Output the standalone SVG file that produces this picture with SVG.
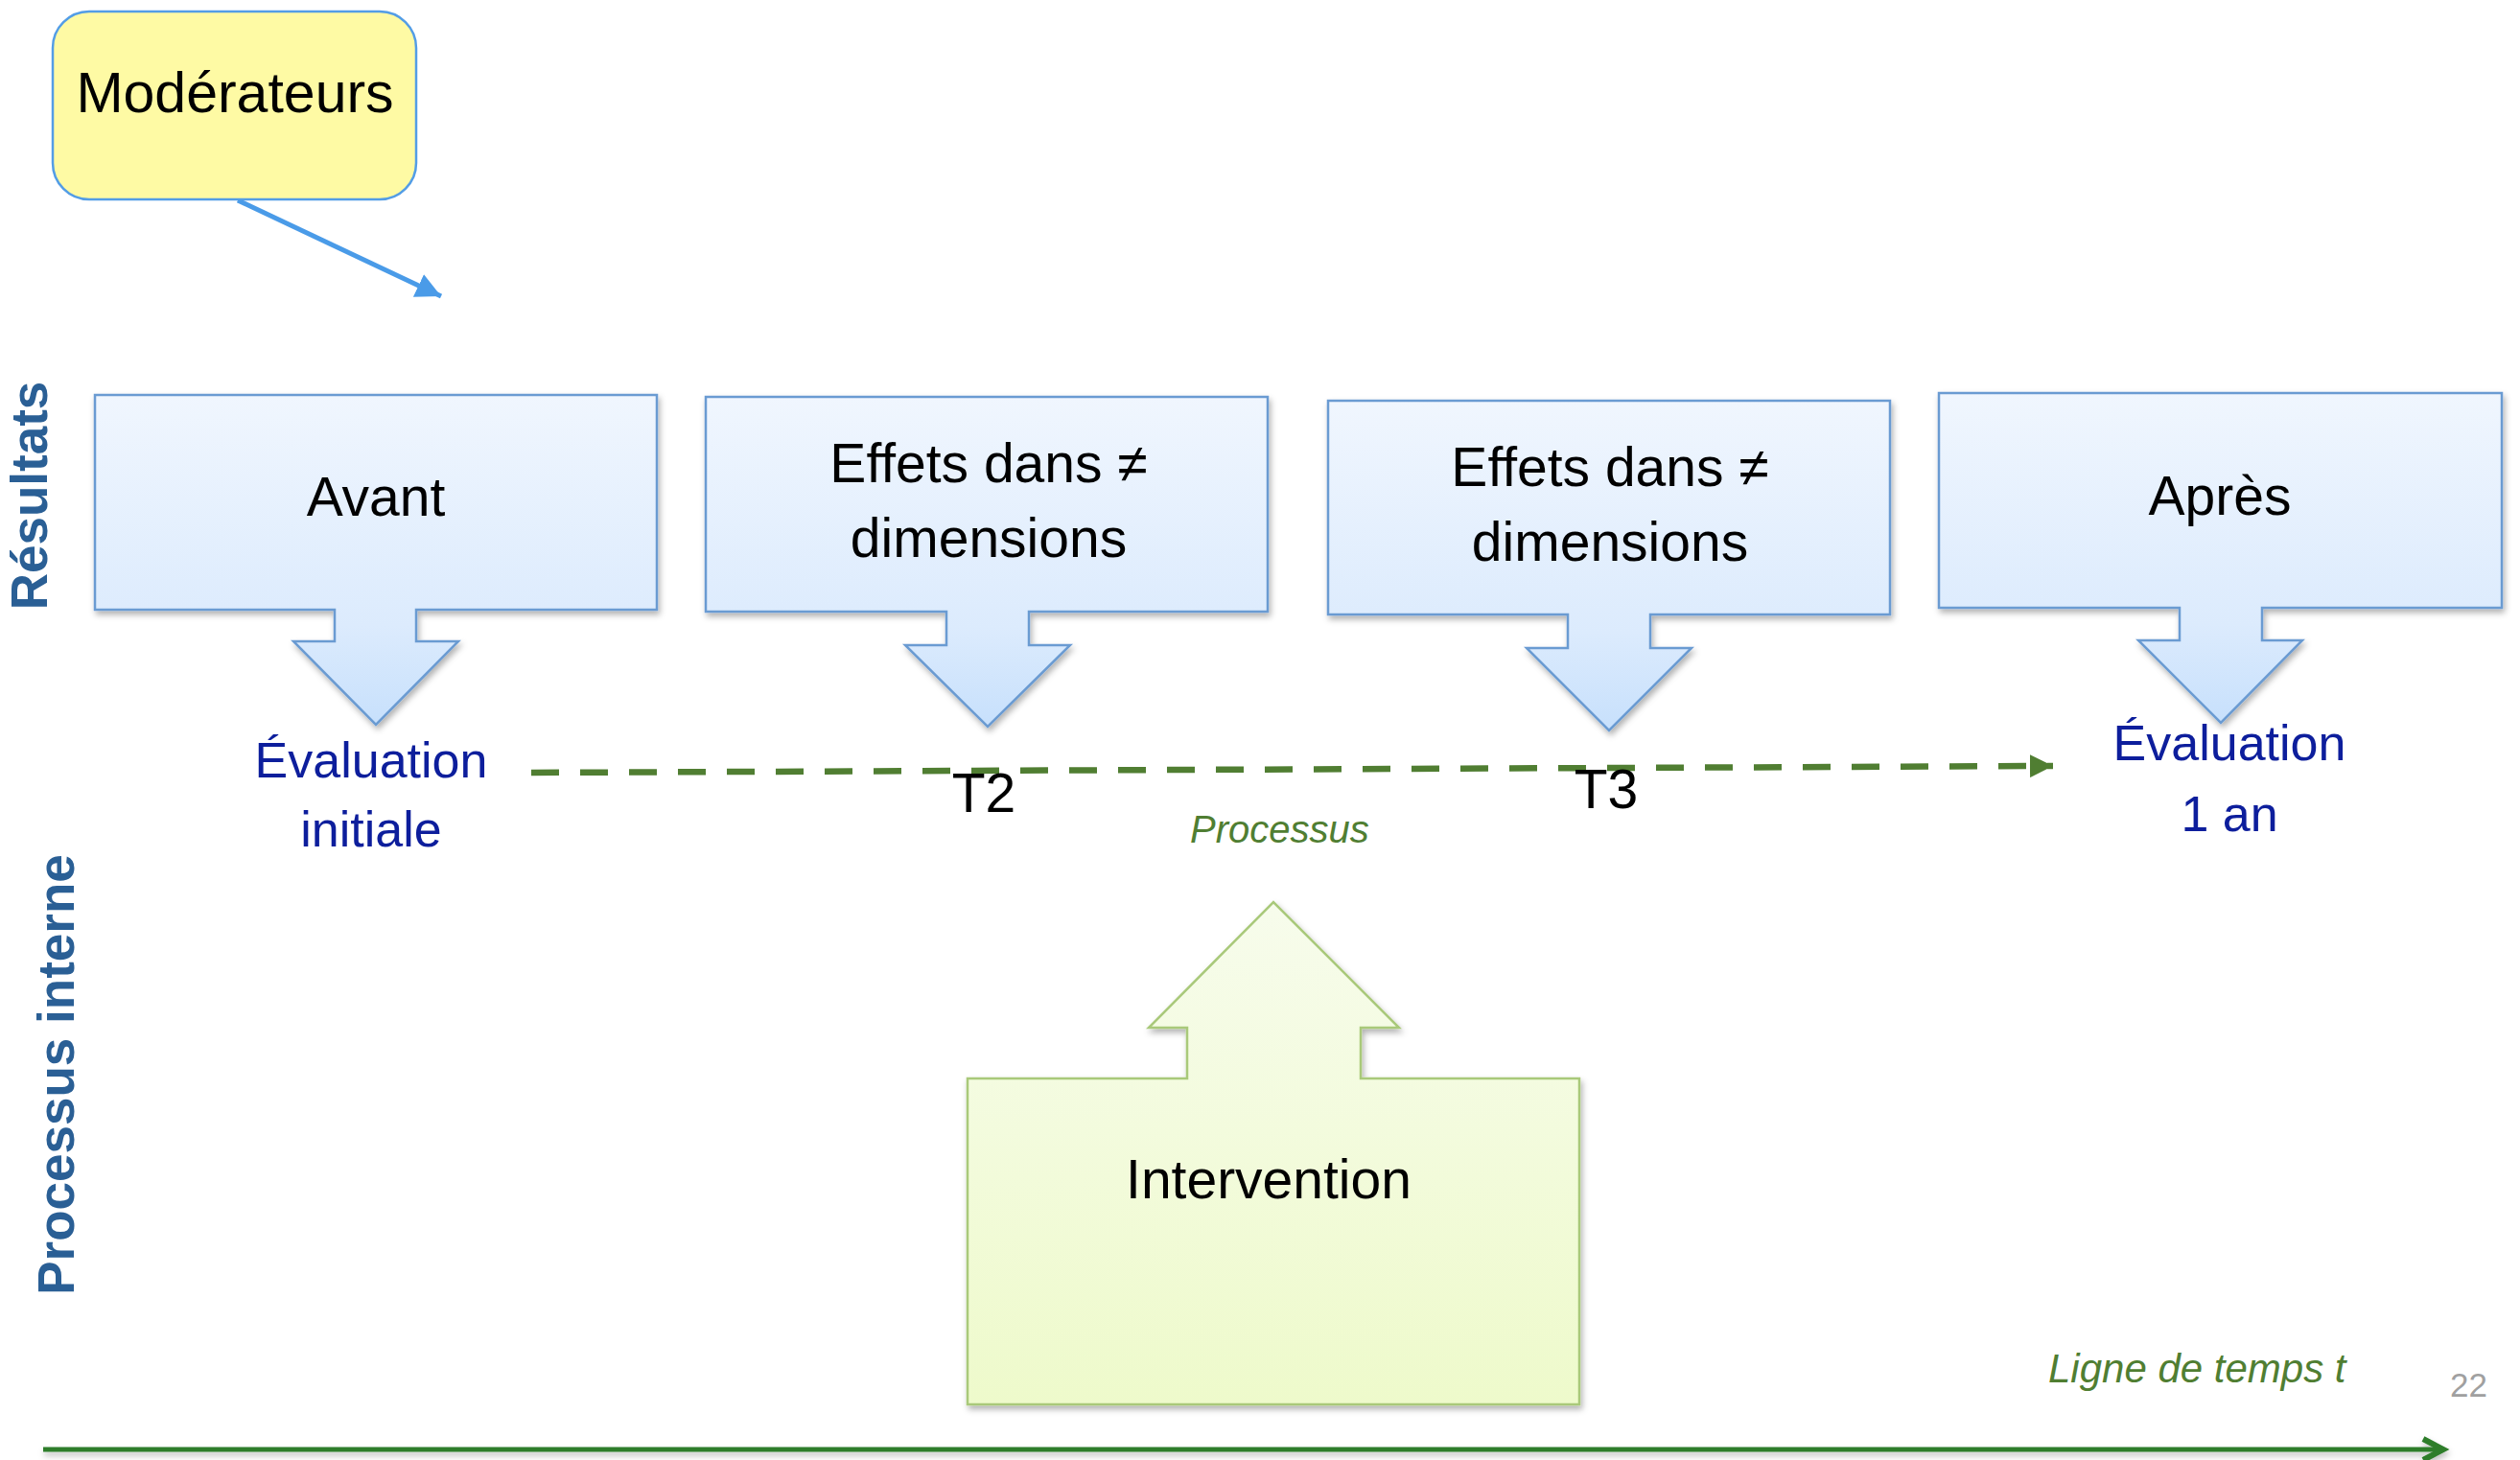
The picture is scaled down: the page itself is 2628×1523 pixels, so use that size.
<svg xmlns="http://www.w3.org/2000/svg" width="2628" height="1523" viewBox="0 0 2628 1523">
  <defs>
    <linearGradient id="blueFill" x1="0" y1="0" x2="0" y2="1">
      <stop offset="0" stop-color="#f0f6fe"/>
      <stop offset="0.7" stop-color="#dcebfd"/>
      <stop offset="1" stop-color="#c7e0fc"/>
    </linearGradient>
    <linearGradient id="greenFill" x1="0" y1="0" x2="0" y2="1">
      <stop offset="0" stop-color="#f7fcec"/>
      <stop offset="1" stop-color="#eefacb"/>
    </linearGradient>
    <filter id="shadow" x="-5%" y="-5%" width="110%" height="115%">
      <feDropShadow dx="2" dy="4" stdDeviation="3" flood-color="#000" flood-opacity="0.3"/>
    </filter>
    <filter id="lineShadow" x="-2%" y="-200%" width="104%" height="500%">
      <feDropShadow dx="1" dy="4" stdDeviation="3" flood-color="#000" flood-opacity="0.25"/>
    </filter>
    <marker id="headBlue" viewBox="0 0 10 10" refX="10" refY="5" markerWidth="26" markerHeight="26" markerUnits="userSpaceOnUse" orient="auto">
      <path d="M0,0 L10,5 L0,10 Z" fill="#4a9be8"/>
    </marker>
    <marker id="headGreen" viewBox="0 0 10 10" refX="10" refY="5" markerWidth="24" markerHeight="24" markerUnits="userSpaceOnUse" orient="auto">
      <path d="M0,0 L10,5 L0,10 Z" fill="#507e32"/>
    </marker>
  </defs>
  <style>
    .callout { fill: url(#blueFill); stroke: #6b9bd2; stroke-width: 2.5; filter: url(#shadow); }
    .inter { fill: url(#greenFill); stroke: #a9c97a; stroke-width: 2.5; filter: url(#shadow); }
    .lbl { font-family: "Liberation Sans", Arial, sans-serif; font-size: 57px; fill: #000; text-anchor: middle; }
    .eval { font-family: "Liberation Sans", Arial, sans-serif; font-size: 52px; fill: #0d1e9c; text-anchor: middle; }
    .axis { font-family: "Liberation Sans", Arial, sans-serif; font-size: 53px; font-weight: bold; fill: #2a5f95; text-anchor: middle; }
    .ital { font-family: "Liberation Sans", Arial, sans-serif; font-style: italic; fill: #507e32; }
  </style>

  <rect width="2628" height="1523" fill="#ffffff"/>

  <!-- axis titles -->
  <text class="axis" transform="translate(49,517) rotate(-90)">Résultats</text>
  <text class="axis" transform="translate(77,1121) rotate(-90)">Processus interne</text>

  <!-- connectors -->
  <g id="connectors">
    <line x1="248" y1="209" x2="460" y2="309" stroke="#4a9be8" stroke-width="5" marker-end="url(#headBlue)"/>
    <line x1="554" y1="806" x2="2141" y2="799" stroke="#507e32" stroke-width="6.5" stroke-dasharray="29 22" marker-end="url(#headGreen)"/>
    <g id="timeline" filter="url(#lineShadow)">
      <line x1="45" y1="1512" x2="2546" y2="1512" stroke="#2f7d2b" stroke-width="5"/>
      <polyline points="2527,1501 2548,1512 2527,1523" fill="none" stroke="#2f7d2b" stroke-width="6"/>
    </g>
  </g>

  <!-- moderators -->
  <g id="moderateurs">
    <rect x="55" y="12" width="379" height="196" rx="38" ry="38" fill="#fefaa4" stroke="#539de6" stroke-width="2.5"/>
    <text x="245" y="117" font-family="Liberation Sans, Arial, sans-serif" font-size="59" text-anchor="middle" fill="#000">Modérateurs</text>
  </g>

  <!-- outcome callouts -->
  <g id="avant">
    <path class="callout" d="M99,412 H685 V636 H434 V669 H478 L392,756 L306,669 H349 V636 H99 Z"/>
    <text class="lbl" x="392" y="538">Avant</text>
  </g>
  <g id="effets-t2">
    <path class="callout" d="M736,414 H1322 V638 H1073 V673 H1116 L1030,758 L944,673 H987 V638 H736 Z"/>
    <text class="lbl" x="1031" y="503">Effets dans ≠</text>
    <text class="lbl" x="1031" y="581">dimensions</text>
  </g>
  <g id="effets-t3">
    <path class="callout" d="M1385,418 H1971 V641 H1721 V676 H1764 L1678,762 L1592,676 H1635 V641 H1385 Z"/>
    <text class="lbl" x="1679" y="507">Effets dans ≠</text>
    <text class="lbl" x="1679" y="585">dimensions</text>
  </g>
  <g id="apres">
    <path class="callout" d="M2022,410 H2609 V634 H2359 V668 H2401 L2316,754 L2230,668 H2273 V634 H2022 Z"/>
    <text class="lbl" x="2315" y="537">Après</text>
  </g>

  <!-- time points -->
  <g id="eval-initiale">
    <text class="eval" x="387" y="811">Évaluation</text>
    <text class="eval" x="387" y="883">initiale</text>
  </g>
  <g id="t2">
    <text class="lbl" x="1026" y="847" font-size="55">T2</text>
  </g>
  <g id="t3">
    <text class="lbl" x="1675" y="843" font-size="55">T3</text>
  </g>
  <g id="eval-1an">
    <text class="eval" x="2325" y="793">Évaluation</text>
    <text class="eval" x="2325" y="867">1 an</text>
  </g>
  <g id="processus">
    <text class="ital" x="1241" y="879" font-size="40">Processus</text>
  </g>

  <!-- intervention -->
  <g id="intervention">
    <path class="inter" d="M1009,1125 H1238 V1072 H1198 L1328,941 L1459,1072 H1419 V1125 H1647 V1465 H1009 Z"/>
    <text class="lbl" x="1323" y="1250" font-size="61">Intervention</text>
  </g>

  <!-- timeline caption -->
  <g id="ligne-temps">
    <text class="ital" x="2136" y="1442" font-size="42">Ligne de temps t</text>
  </g>
  <text x="2555" y="1457" font-family="Liberation Sans, Arial, sans-serif" font-size="35" fill="#a0a0a0">22</text>
</svg>
